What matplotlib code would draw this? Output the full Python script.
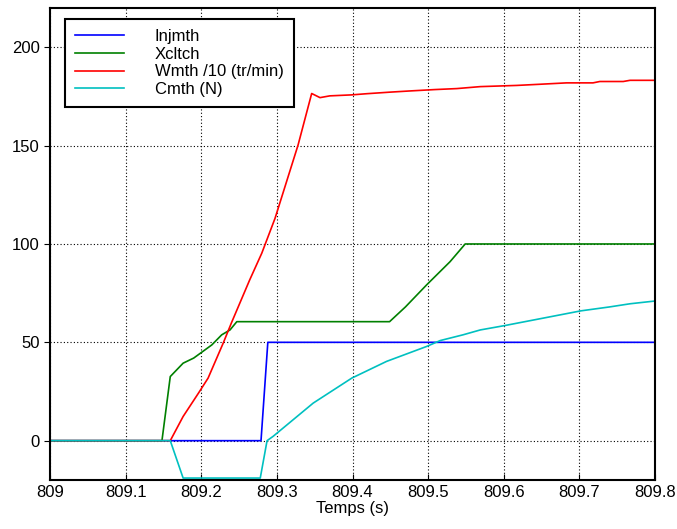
import matplotlib
matplotlib.use("Agg")
import matplotlib.pyplot as plt

# Time axis (s) and signal values
t_inj = [809.0, 809.279, 809.288, 809.8]
injmth = [0, 0, 50, 50]

t_xcl = [809.0, 809.148, 809.159, 809.176, 809.19, 809.214, 809.227, 809.238, 809.247,
         809.449, 809.47, 809.498, 809.529, 809.549, 809.8]
xcltch = [0, 0, 32.6, 39.4, 42, 48.7, 53.8, 56.3, 60.5,
          60.5, 68, 79.2, 91, 100, 100]

t_wm = [809.0, 809.159, 809.176, 809.196, 809.209, 809.229, 809.240, 809.264, 809.280,
        809.2975, 809.328, 809.346, 809.357, 809.37, 809.399, 809.419, 809.45, 809.476,
        809.509, 809.538, 809.569, 809.617, 809.648, 809.683, 809.718, 809.727, 809.758,
        809.767, 809.8]
wmth = [0, 0, 12.3, 24, 31.8, 49.6, 60, 81.7, 95.3,
        113, 150.3, 176.5, 174.4, 175.3, 175.8, 176.4, 177.2, 177.8,
        178.5, 179, 180, 180.6, 181.2, 181.9, 181.9, 182.6, 182.6,
        183.2, 183.2]

t_cm = [809.0, 809.159, 809.176, 809.278, 809.287, 809.295, 809.348, 809.399, 809.445,
        809.498, 809.516, 809.546, 809.569, 809.601, 809.702, 809.740, 809.767, 809.8]
cmth = [0, 0, -19, -19, 0, 2.2, 19.1, 31.8, 40.3,
        47.9, 50.9, 53.8, 56.3, 58.5, 66, 68, 69.6, 71]

labels = ["Injmth", "Xcltch", "Wmth /10 (tr/min)", "Cmth (N)"]
xticks = [809, 809.1, 809.2, 809.3, 809.4, 809.5, 809.6, 809.7, 809.8]
xticklabels = ["809", "809.1", "809.2", "809.3", "809.4", "809.5", "809.6", "809.7", "809.8"]
yticks = [0, 50, 100, 150, 200]

plt.rcParams["font.family"] = ["Liberation Sans", "DejaVu Sans"]

fig = plt.figure(figsize=(6.77, 5.29), dpi=100)
ax = fig.add_axes([0.0739, 0.0926, 0.8936, 0.8924])

lw = 1.2
ax.plot(t_inj, injmth, color="#0000ff", lw=lw, label=labels[0])
ax.plot(t_xcl, xcltch, color="#008000", lw=lw, label=labels[1])
ax.plot(t_wm, wmth, color="#ff0000", lw=lw, label=labels[2])
ax.plot(t_cm, cmth, color="#00c0c0", lw=lw, label=labels[3])

ax.set_xlim(809, 809.8)
ax.set_ylim(-20, 220)
ax.set_xticks(xticks)
ax.set_xticklabels(xticklabels)
ax.set_yticks(yticks)
ax.tick_params(axis="x", direction="in", length=4, labelsize=12, colors="black")
ax.tick_params(axis="y", direction="out", length=4, labelsize=12, colors="black")
ax.grid(True, color="black", linestyle=(0, (1, 2)), linewidth=0.8)
for sp in ax.spines.values():
    sp.set_linewidth(1.5)
    sp.set_color("black")

ax.set_xlabel("Temps (s)", fontsize=12, labelpad=1)

leg = ax.legend(loc="upper left", bbox_to_anchor=(0.025, 0.977), fontsize=12,
                handlelength=2.9, handletextpad=1.85, borderpad=0.62, labelspacing=0.16,
                fancybox=False, framealpha=1, edgecolor="black", borderaxespad=0)
leg.get_frame().set_linewidth(1.5)

fig.savefig("out.png", dpi=100)
